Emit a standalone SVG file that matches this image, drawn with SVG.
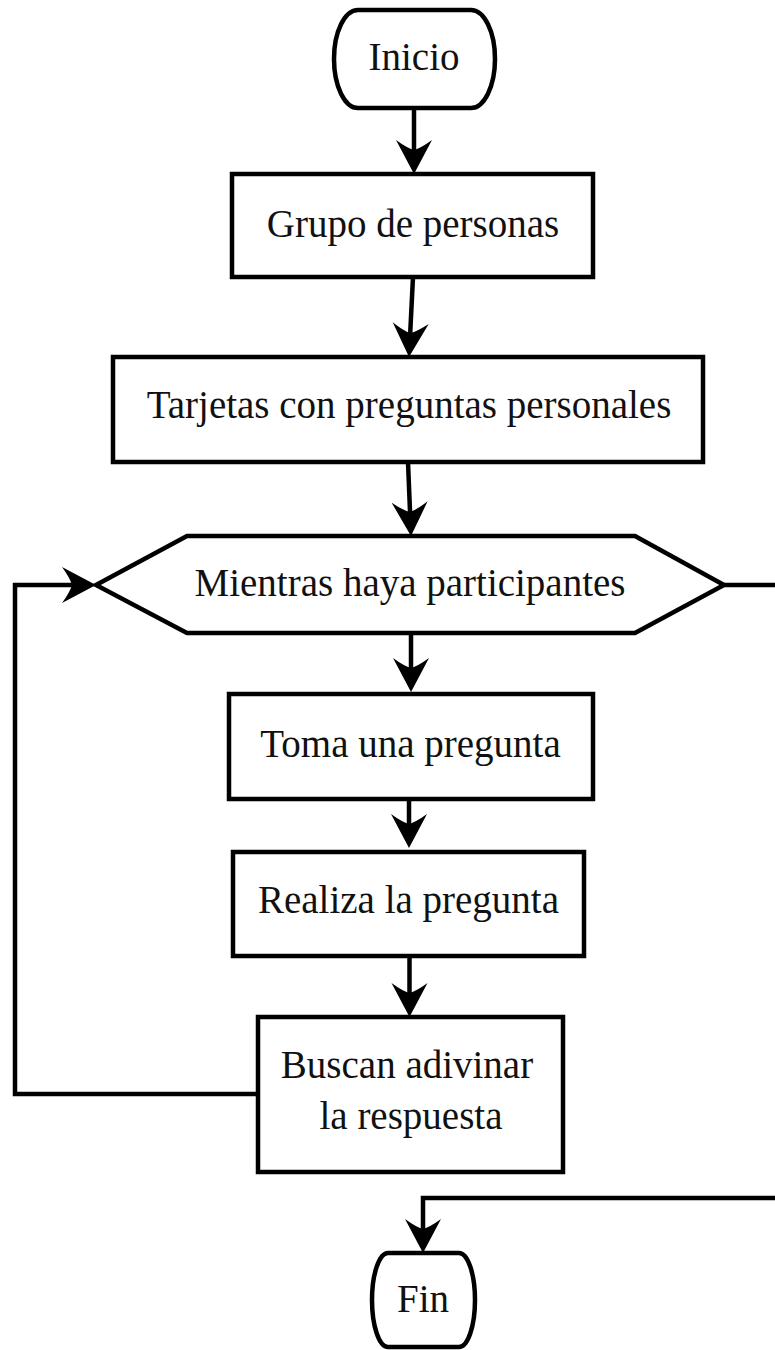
<svg xmlns="http://www.w3.org/2000/svg" width="775" height="1350" viewBox="0 0 775 1350">
<style>
.shape{fill:#fff;stroke:#000;stroke-width:4.5;stroke-linejoin:miter}
.conn{fill:none;stroke:#000;stroke-width:4.5;stroke-linejoin:miter}
text{font-family:"Liberation Serif","DejaVu Serif",serif;font-size:39px;fill:#111;text-anchor:middle}
</style>
<defs>
<marker id="arr" markerUnits="userSpaceOnUse" markerWidth="36" markerHeight="38" viewBox="0 0 36 38" refX="24" refY="19" orient="auto">
<path d="M34 19 L0 1 Q8 12 10 19 Q8 26 0 37 Z" fill="#000"/>
</marker>
</defs>
<g id="connectors">
<path class="conn" d="M414 108 V164" marker-end="url(#arr)"/>
<path class="conn" d="M413 277 L409.5 347" marker-end="url(#arr)"/>
<path class="conn" d="M408 462 L410.6 526" marker-end="url(#arr)"/>
<path class="conn" d="M411 633 V682" marker-end="url(#arr)"/>
<path class="conn" d="M409 799 V838" marker-end="url(#arr)"/>
<path class="conn" d="M409.5 956 V1007" marker-end="url(#arr)"/>
<path class="conn" d="M258 1094 H15 V585 H86" marker-end="url(#arr)"/>
<path class="conn" d="M724 585 H781 V1198 H423 V1243" marker-end="url(#arr)"/>
</g>
<g id="inicio">
<rect class="shape" x="334" y="10" width="161" height="98" rx="24" ry="49"/>
<text x="414" y="70">Inicio</text>
</g>
<g id="grupo">
<rect class="shape" x="232" y="174" width="361" height="103"/>
<text x="413" y="237">Grupo de personas</text>
</g>
<g id="tarjetas">
<rect class="shape" x="113" y="357" width="590" height="105"/>
<text x="409" y="418">Tarjetas con preguntas personales</text>
</g>
<g id="mientras">
<polygon class="shape" points="96,585 187,536 635,536 724,585 635,633 187,633"/>
<text x="410" y="596">Mientras haya participantes</text>
</g>
<g id="toma">
<rect class="shape" x="229" y="694" width="364" height="105"/>
<text x="410.5" y="757">Toma una pregunta</text>
</g>
<g id="realiza">
<rect class="shape" x="233" y="852" width="351" height="104"/>
<text x="408.5" y="913">Realiza la pregunta</text>
</g>
<g id="buscan">
<rect class="shape" x="258" y="1017" width="305" height="155"/>
<text x="407" y="1078">Buscan adivinar</text>
<text x="411" y="1129">la respuesta</text>
</g>
<g id="fin">
<rect class="shape" x="372" y="1253" width="103" height="94" rx="16" ry="47"/>
<text x="423" y="1312">Fin</text>
</g>
</svg>
